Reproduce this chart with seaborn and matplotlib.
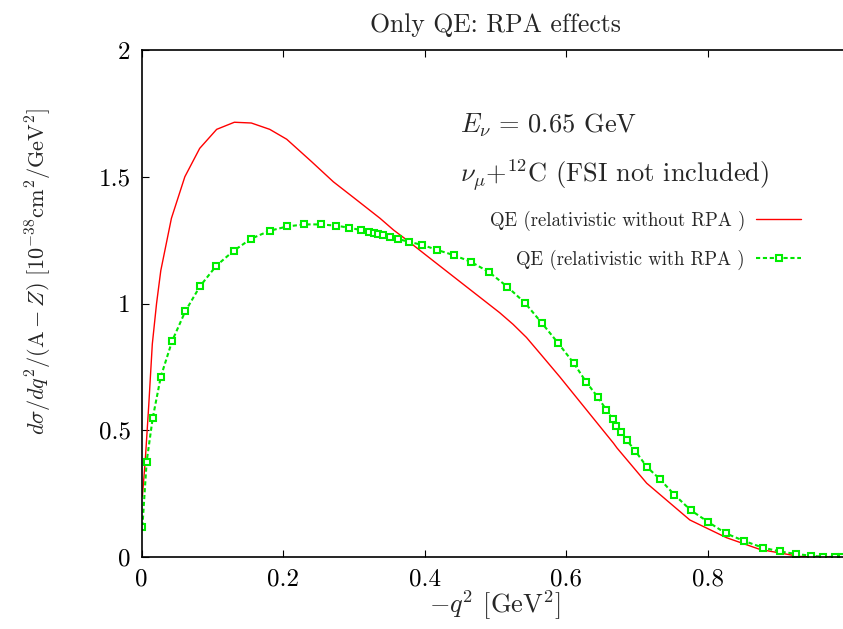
import numpy as np
import pandas as pd
import seaborn as sns
import matplotlib.pyplot as plt

q2_norpa = [0.001, 0.005, 0.010, 0.015, 0.021, 0.027, 0.042, 0.061, 0.082, 0.106,
            0.131, 0.155, 0.181, 0.205, 0.240, 0.271, 0.300, 0.337, 0.356, 0.375,
            0.400, 0.450, 0.506, 0.525, 0.544, 0.565, 0.591, 0.640, 0.667, 0.672,
            0.714, 0.775, 0.827, 0.874, 0.930, 0.960, 1.000]
xs_norpa = [0.24, 0.38, 0.60, 0.84, 1.00, 1.13, 1.336, 1.50, 1.612, 1.687,
            1.715, 1.712, 1.687, 1.648, 1.56, 1.48, 1.417, 1.336, 1.29, 1.25,
            1.195, 1.086, 0.964, 0.918, 0.866, 0.797, 0.711, 0.542, 0.449, 0.43,
            0.291, 0.146, 0.076, 0.030, 0.002, 0.0, 0.0]

q2_rpa = [0.001, 0.007, 0.0155, 0.027, 0.043, 0.0616, 0.0824, 0.1055, 0.130, 0.155,
          0.181, 0.206, 0.230, 0.253, 0.275, 0.293, 0.3095, 0.321, 0.329, 0.334,
          0.341, 0.351, 0.363, 0.378, 0.397, 0.418, 0.441, 0.465, 0.491, 0.517,
          0.542, 0.566, 0.589, 0.611, 0.628, 0.645, 0.657, 0.666, 0.671, 0.678,
          0.686, 0.698, 0.714, 0.733, 0.753, 0.776, 0.801, 0.826, 0.852, 0.878,
          0.902, 0.925, 0.946, 0.963, 0.980, 0.990]
xs_rpa = [0.12, 0.376, 0.547, 0.711, 0.852, 0.969, 1.068, 1.149, 1.208, 1.256,
          1.287, 1.304, 1.312, 1.312, 1.307, 1.299, 1.290, 1.283, 1.278, 1.274,
          1.270, 1.264, 1.254, 1.243, 1.231, 1.211, 1.191, 1.165, 1.124, 1.066,
          1.002, 0.922, 0.843, 0.764, 0.692, 0.630, 0.580, 0.543, 0.517, 0.494,
          0.460, 0.418, 0.356, 0.306, 0.246, 0.185, 0.138, 0.093, 0.063, 0.037,
          0.022, 0.012, 0.005, 0.001, 0.0, 0.0]

x_ticks = [0, 0.2, 0.4, 0.6, 0.8]
y_ticks = [0, 0.5, 1, 1.5, 2]

label_norpa = "QE (relativistic without RPA )"
label_rpa = "QE (relativistic with RPA )"

sns.set_style("ticks")
plt.rcParams["font.family"] = ["serif"]
plt.rcParams["font.serif"] = ["cmr10", "DejaVu Serif"]
plt.rcParams["mathtext.fontset"] = "cm"
plt.rcParams["axes.unicode_minus"] = False
plt.rcParams["axes.formatter.use_mathtext"] = True

df_norpa = pd.DataFrame({"q2": q2_norpa, "xs": xs_norpa})
df_rpa = pd.DataFrame({"q2": q2_rpa, "xs": xs_rpa})

fig = plt.figure(figsize=(8.43, 6.29), dpi=100)
ax = fig.add_axes([141.7 / 843, 72 / 629, (849 - 141.7) / 843, 507 / 629])

sns.lineplot(data=df_norpa, x="q2", y="xs", ax=ax, color="#ff0000", lw=1.0,
             label=label_norpa, estimator=None)
sns.lineplot(data=df_rpa, x="q2", y="xs", ax=ax, color="#00e600", lw=1.5,
             marker="s", markersize=5, markerfacecolor="white",
             markeredgecolor="#00ee00", markeredgewidth=1.5,
             dashes=False, label=label_rpa, estimator=None)
ax.lines[1].set_linestyle((0, (2, 1.3)))

ax.set_xlim(0, 1)
ax.set_ylim(0, 2)
ax.set_xticks(x_ticks)
ax.set_yticks(y_ticks)
ax.set_xticklabels([f"{v:g}" for v in x_ticks])
ax.set_yticklabels([f"{v:g}" for v in y_ticks])
ax.tick_params(direction="in", top=True, right=False, length=5, width=0.8,
               labelsize=18, pad=8, colors="black")
for s in ax.spines.values():
    s.set_linewidth(1.2)
    s.set_color("black")

ax.set_xlabel("")
ax.set_ylabel("")
fig.text(495 / 843, 1 - 605 / 629, r"$-q^2$ [GeV$^2$]", ha="center", va="center", fontsize=19)
fig.text(39 / 843, 1 - 271.5 / 629,
         r"$d\sigma/dq^2/(\mathrm{A}-Z)\ [10^{-38}\mathrm{cm}^2/\mathrm{GeV}^2]$",
         ha="center", va="center", rotation=90, fontsize=16)
ax.set_title("Only QE: RPA effects", fontsize=18.5, pad=13)

ax.text(460 / 843, 1 - 133 / 629, r"$E_\nu\,=\,0.65$ GeV", transform=fig.transFigure,
        fontsize=19, ha="left", va="baseline")
ax.text(460 / 843, 1 - 183 / 629, r"$\nu_\mu$+$^{12}$C (FSI not included)",
        transform=fig.transFigure, fontsize=19, ha="left", va="baseline")

ax.legend(loc="upper right", bbox_to_anchor=(818 / 843, 1 - 194 / 629),
          bbox_transform=fig.transFigure, frameon=False, markerfirst=False,
          fontsize=13.5, handlelength=2.4, labelspacing=1.0, handletextpad=0.6)

fig.savefig("out.png", dpi=100)
